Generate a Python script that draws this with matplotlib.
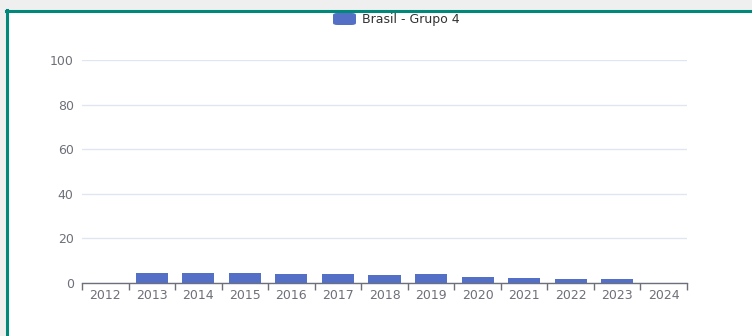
import numpy as np
import matplotlib.pyplot as plt
from matplotlib.patches import Rectangle, FancyBboxPatch

# data
years = ['2012', '2013', '2014', '2015', '2016', '2017', '2018',
         '2019', '2020', '2021', '2022', '2023', '2024']
values = [0, 4.5, 4.5, 4.3, 4.2, 4.0, 3.8, 4.2, 2.5, 2.2, 1.8, 1.8, 0]
series_name = 'Brasil - Grupo 4'

W, H = 752, 336
fig = plt.figure(figsize=(W / 100, H / 100), dpi=100)
fig.patch.set_facecolor('#efefef')

# white panel with teal frame (top and left edges visible)
fig.add_artist(Rectangle((6 / W, 0), 1, 1 - 10 / H, transform=fig.transFigure,
                         facecolor='white', edgecolor='none', zorder=-10))
fig.add_artist(plt.Line2D([6 / W, 1], [1 - 10.5 / H, 1 - 10.5 / H],
                          color='#00897b', lw=2.2, transform=fig.transFigure, zorder=-5))
fig.add_artist(plt.Line2D([7 / W, 7 / W], [0, 1 - 10 / H],
                          color='#00897b', lw=2.2, transform=fig.transFigure, zorder=-5))

ax = fig.add_axes([82 / W, 1 - 283 / H, (687 - 82) / W, (283 - 60) / H])
ax.set_facecolor('none')

x = np.arange(len(years))
ax.bar(x, values, width=0.69, color='#5470c6', zorder=3)

ax.set_xlim(-0.5, len(years) - 0.5)
ax.set_ylim(0, 100)
ax.set_yticks([0, 20, 40, 60, 80, 100])
ax.set_xticks(x)
ax.set_xticklabels(years)
ax.set_xticks(np.arange(-0.5, len(years)), minor=True)

ax.grid(axis='y', color='#e0e6f1', lw=1, zorder=0)
for s in ['top', 'right', 'left']:
    ax.spines[s].set_visible(False)
ax.spines['bottom'].set_color('#6e7079')
ax.spines['bottom'].set_linewidth(1)

ax.tick_params(axis='x', which='major', length=0, pad=4, labelsize=9, labelcolor='#6e7079')
ax.tick_params(axis='x', which='minor', length=5, color='#6e7079', width=1)
ax.tick_params(axis='y', length=0, pad=6, labelsize=9, labelcolor='#6e7079')

# legend at top centre
lx, ly = 333, 19
fig.add_artist(FancyBboxPatch((lx / W, 1 - (ly + 6) / H), 23 / W, 12 / H,
                              boxstyle='round,pad=0,rounding_size=0.006',
                              transform=fig.transFigure, facecolor='#5470c6',
                              edgecolor='none'))
fig.text((lx + 29) / W, 1 - ly / H, series_name, fontsize=9, color='#333333',
         va='center', ha='left')

fig.savefig('out.png', dpi=100)
